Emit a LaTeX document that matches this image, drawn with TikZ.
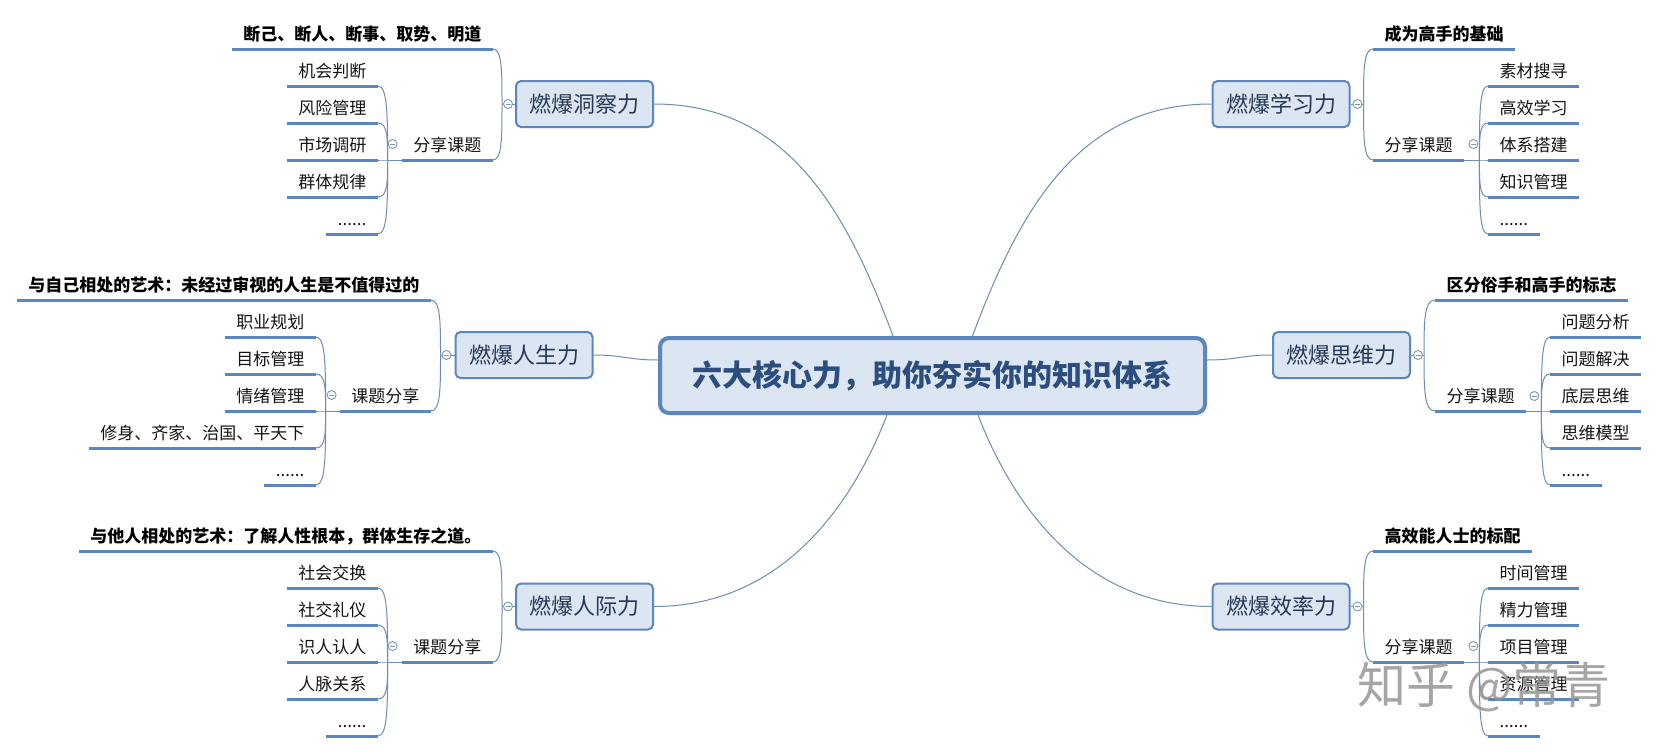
\documentclass[tikz,border=0pt]{standalone}
\usepackage{fontspec}
\setmainfont{Noto Sans CJK SC}
\usetikzlibrary{calc}
\definecolor{boxfill}{RGB}{220,230,242}
\definecolor{boxline}{RGB}{91,134,190}
\definecolor{ulcol}{RGB}{91,134,190}
\definecolor{thincol}{RGB}{110,140,184}
\definecolor{btncol}{RGB}{128,150,182}
\definecolor{topictext}{RGB}{38,56,86}
\definecolor{centertext}{RGB}{44,78,126}
\definecolor{leaftext}{RGB}{20,20,20}
\definecolor{wmcol}{RGB}{150,150,150}
\tikzset{
  topic/.style={draw=boxline, fill=boxfill, line width=2pt, rounded corners=5pt, minimum width=137pt, minimum height=46pt, inner sep=0pt, font=\fontsize{22}{26}\selectfont, text=topictext},
  centertopic/.style={draw=boxline, fill=boxfill, line width=4pt, rounded corners=9pt, minimum width=545pt, minimum height=75pt, inner sep=0pt, font=\bfseries\fontsize{30}{36}\selectfont, text=centertext},
  lbl/.style={inner xsep=11.5pt, inner ysep=0pt, text height=12pt, text depth=8.5pt, font=\fontsize{17}{20}\selectfont, text=leaftext},
  titlelbl/.style={lbl, font=\bfseries\fontsize{17}{20}\selectfont, text=black},
  uline/.style={draw=ulcol, line width=3pt},
  conn/.style={draw=thincol, line width=1pt},
  btn/.style={circle, draw=btncol, fill=white, line width=0.9pt, minimum size=9pt, inner sep=0pt,
    path picture={\draw[btncol, line width=0.9pt] ([xshift=-2.5pt]path picture bounding box.center) -- ([xshift=2.5pt]path picture bounding box.center);}},
}
\newcommand\lleaf[5][lbl]{%
  \node[#1, anchor=south east] (#2) at (#3,#4) {#5};
  \draw[uline] (#2.south west) -- (#2.south east);}
\newcommand\rleaf[5][lbl]{%
  \node[#1, anchor=south west] (#2) at (#3,#4) {#5};
  \draw[uline] (#2.south west) -- (#2.south east);}
\newcommand\bcurve[2]{\draw[conn] (#1) .. controls (#2|-#1) and ($(#2)!0.6!(#2|-#1)$) .. (#2);}
\begin{document}
\begin{tikzpicture}[x=1pt, y=-1pt]
\fill[white] (0,0) rectangle (1658,753);
\useasboundingbox (0,0) rectangle (1658,753);

% central topic
\node[centertopic] (c) at (932.5,375.5) {六大核心力，助你夯实你的知识体系};

% main topics
\node[topic] (tl) at (584.5,104) {燃爆洞察力};
\node[topic] (ml) at (524,355) {燃爆人生力};
\node[topic] (bl) at (584.5,606.5) {燃爆人际力};
\node[topic] (tr) at (1281,104) {燃爆学习力};
\node[topic] (mr) at (1341.5,355) {燃爆思维力};
\node[topic] (br) at (1281,606.5) {燃爆效率力};

% central connectors
\draw[conn] (tl.east) .. controls +(130,0) and +(-49,-132) .. ($(c.north)+(-39.5,0)$);
\draw[conn] (tr.west) .. controls +(-130,0) and +(49,-132) .. ($(c.north)+(40,0)$);
\draw[conn] (bl.east) .. controls +(126,0) and +(-36,93) .. ($(c.south)+(-45.5,0)$);
\draw[conn] (br.west) .. controls +(-126,0) and +(36,93) .. ($(c.south)+(45.5,0)$);
\draw[conn] (ml.east) .. controls +(30,0) and +(-30,0) .. ($(c.west)+(0,-15.5)$);
\draw[conn] (mr.west) .. controls +(-30,0) and +(30,0) .. ($(c.east)+(0,-15.5)$);

% ---------- top left ----------
\coordinate (tlJ) at ($(tl.west)+(-13,0)$);
\lleaf[titlelbl]{tlt}{493}{49}{断己、断人、断事、取势、明道}
\lleaf{tlp}{493}{160}{分享课题}
\coordinate (tlpJ) at ($(tlp.south west)+(-14,0)$);
\lleaf{tl1}{378}{86}{机会判断}
\lleaf{tl2}{378}{123}{风险管理}
\lleaf{tl3}{378}{160}{市场调研}
\lleaf{tl4}{378}{197}{群体规律}
\lleaf{tl5}{378}{234}{......}
\bcurve{tlt.south east}{tlJ}
\bcurve{tlp.south east}{tlJ}
\draw[conn] (tlJ) -- (tl.west);
\bcurve{tl1.south east}{tlpJ}
\bcurve{tl2.south east}{tlpJ}
\bcurve{tl3.south east}{tlpJ}
\bcurve{tl4.south east}{tlpJ}
\bcurve{tl5.south east}{tlpJ}
\draw[conn] (tlpJ) -- (tlp.south west);
\node[btn] (tlb) at ($(tl.west)+(-7,0)$) {};
\node[btn] (tlpb) at ($(tlp.south west)+(-9,-16)$) {};

% ---------- middle left ----------
\coordinate (mlJ) at ($(ml.west)+(-14,0)$);
\lleaf[titlelbl]{mlt}{431}{300}{与自己相处的艺术：未经过审视的人生是不值得过的}
\lleaf{mlp}{431}{411}{课题分享}
\coordinate (mlpJ) at ($(mlp.south west)+(-14,0)$);
\lleaf{ml1}{316}{337}{职业规划}
\lleaf{ml2}{316}{374}{目标管理}
\lleaf{ml3}{316}{411}{情绪管理}
\lleaf{ml4}{316}{448}{修身、齐家、治国、平天下}
\lleaf{ml5}{316}{485}{......}
\bcurve{mlt.south east}{mlJ}
\bcurve{mlp.south east}{mlJ}
\draw[conn] (mlJ) -- (ml.west);
\bcurve{ml1.south east}{mlpJ}
\bcurve{ml2.south east}{mlpJ}
\bcurve{ml3.south east}{mlpJ}
\bcurve{ml4.south east}{mlpJ}
\bcurve{ml5.south east}{mlpJ}
\draw[conn] (mlpJ) -- (mlp.south west);
\node[btn] (mlb) at ($(ml.west)+(-8,0)$) {};
\node[btn] (mlpb) at ($(mlp.south west)+(-8,-16)$) {};

% ---------- bottom left ----------
\coordinate (blJ) at ($(bl.west)+(-13,0)$);
\lleaf[titlelbl]{blt}{493}{551}{与他人相处的艺术：了解人性根本，群体生存之道。}
\lleaf{blp}{493}{662}{课题分享}
\coordinate (blpJ) at ($(blp.south west)+(-14,0)$);
\lleaf{bl1}{378}{588}{社会交换}
\lleaf{bl2}{378}{625}{社交礼仪}
\lleaf{bl3}{378}{662}{识人认人}
\lleaf{bl4}{378}{699}{人脉关系}
\lleaf{bl5}{378}{736}{......}
\bcurve{blt.south east}{blJ}
\bcurve{blp.south east}{blJ}
\draw[conn] (blJ) -- (bl.west);
\bcurve{bl1.south east}{blpJ}
\bcurve{bl2.south east}{blpJ}
\bcurve{bl3.south east}{blpJ}
\bcurve{bl4.south east}{blpJ}
\bcurve{bl5.south east}{blpJ}
\draw[conn] (blpJ) -- (blp.south west);
\node[btn] (blb) at ($(bl.west)+(-7,0)$) {};
\node[btn] (blpb) at ($(blp.south west)+(-9,-16)$) {};

% ---------- top right ----------
\coordinate (trJ) at ($(tr.east)+(13,0)$);
\rleaf[titlelbl]{trt}{1373}{49}{成为高手的基础}
\rleaf{trp}{1373}{160}{分享课题}
\coordinate (trpJ) at ($(trp.south east)+(15,0)$);
\rleaf{tr1}{1488}{86}{素材搜寻}
\rleaf{tr2}{1488}{123}{高效学习}
\rleaf{tr3}{1488}{160}{体系搭建}
\rleaf{tr4}{1488}{197}{知识管理}
\rleaf{tr5}{1488}{234}{......}
\bcurve{trt.south west}{trJ}
\bcurve{trp.south west}{trJ}
\draw[conn] (trJ) -- (tr.east);
\bcurve{tr1.south west}{trpJ}
\bcurve{tr2.south west}{trpJ}
\bcurve{tr3.south west}{trpJ}
\bcurve{tr4.south west}{trpJ}
\bcurve{tr5.south west}{trpJ}
\draw[conn] (trpJ) -- (trp.south east);
\node[btn] (trb) at ($(tr.east)+(7,0)$) {};
\node[btn] (trpb) at ($(trp.south east)+(9,-16)$) {};

% ---------- middle right ----------
\coordinate (mrJ) at ($(mr.east)+(13,0)$);
\rleaf[titlelbl]{mrt}{1435}{300}{区分俗手和高手的标志}
\rleaf{mrp}{1435}{411}{分享课题}
\coordinate (mrpJ) at ($(mrp.south east)+(15,0)$);
\rleaf{mr1}{1550}{337}{问题分析}
\rleaf{mr2}{1550}{374}{问题解决}
\rleaf{mr3}{1550}{411}{底层思维}
\rleaf{mr4}{1550}{448}{思维模型}
\rleaf{mr5}{1550}{485}{......}
\bcurve{mrt.south west}{mrJ}
\bcurve{mrp.south west}{mrJ}
\draw[conn] (mrJ) -- (mr.east);
\bcurve{mr1.south west}{mrpJ}
\bcurve{mr2.south west}{mrpJ}
\bcurve{mr3.south west}{mrpJ}
\bcurve{mr4.south west}{mrpJ}
\bcurve{mr5.south west}{mrpJ}
\draw[conn] (mrpJ) -- (mrp.south east);
\node[btn] (mrb) at ($(mr.east)+(7,0)$) {};
\node[btn] (mrpb) at ($(mrp.south east)+(8,-15)$) {};

% ---------- bottom right ----------
\coordinate (brJ) at ($(br.east)+(13,0)$);
\rleaf[titlelbl]{brt}{1373}{551}{高效能人士的标配}
\rleaf{brp}{1373}{662}{分享课题}
\coordinate (brpJ) at ($(brp.south east)+(15,0)$);
\rleaf{br1}{1488}{588}{时间管理}
\rleaf{br2}{1488}{625}{精力管理}
\rleaf{br3}{1488}{662}{项目管理}
\rleaf{br4}{1488}{699}{资源管理}
\rleaf{br5}{1488}{736}{......}
\bcurve{brt.south west}{brJ}
\bcurve{brp.south west}{brJ}
\draw[conn] (brJ) -- (br.east);
\bcurve{br1.south west}{brpJ}
\bcurve{br2.south west}{brpJ}
\bcurve{br3.south west}{brpJ}
\bcurve{br4.south west}{brpJ}
\bcurve{br5.south west}{brpJ}
\draw[conn] (brpJ) -- (brp.south east);
\node[btn] (brb) at ($(br.east)+(7,0)$) {};
\node[btn] (brpb) at ($(brp.south east)+(9,-16)$) {};

% watermark
\node[anchor=west, inner sep=0pt, text=wmcol, opacity=0.85, font=\fontsize{49}{55}\selectfont] (wmk) at (1357,687) {知乎 @常青};
\end{tikzpicture}
\end{document}
